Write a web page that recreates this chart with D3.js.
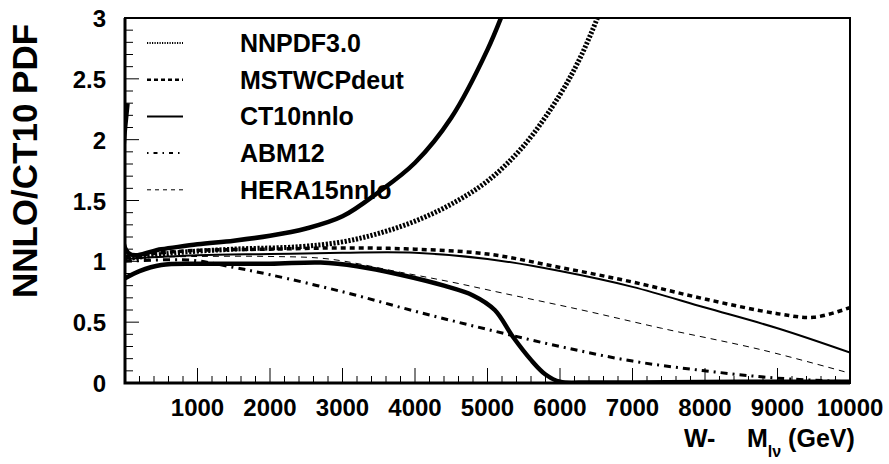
<!DOCTYPE html>
<html>
<head>
<meta charset="utf-8">
<script src="https://cdn.jsdelivr.net/npm/d3@7"></script>
<style>
  body { margin: 0; background: #fff; }
  text { font-family: "Liberation Sans", Arial, Helvetica, sans-serif; font-weight: bold; }
</style>
</head>
<body>
<svg width="889" height="464"></svg>
<script>
const svg = d3.select("svg");

// x values (GeV) and ratio values
const upperX = [35, 45, 500, 1000, 1500, 2000, 2500, 3000, 3500, 4000, 4500, 5000, 5250];
const upperY = [2.3, 1.07, 1.10, 1.14, 1.17, 1.21, 1.27, 1.37, 1.57, 1.81, 2.18, 2.74, 3.1];

const lowerX = [0, 200, 500, 1000, 2000, 2700, 3200, 3800, 4400, 4800, 5100, 5350, 5600, 5800, 6000, 6400, 7000, 8500, 10000];
const lowerY = [0.86, 0.92, 0.97, 0.98, 0.98, 0.99, 0.96, 0.89, 0.80, 0.72, 0.60, 0.38, 0.19, 0.07, 0.01, 0.005, 0.005, 0.01, 0.01];

const nnpdfX = [0, 700, 1500, 2400, 3000, 3500, 4000, 4500, 5000, 5500, 6000, 6300, 6550];
const nnpdfY = [1.02, 1.07, 1.10, 1.12, 1.16, 1.23, 1.33, 1.47, 1.66, 1.95, 2.37, 2.70, 3.05];

const mstwX = [0, 500, 1000, 2000, 3000, 4000, 5000, 6000, 7000, 8000, 9000, 9500, 10000];
const mstwY = [1.04, 1.07, 1.09, 1.10, 1.11, 1.10, 1.06, 0.95, 0.83, 0.69, 0.57, 0.54, 0.62];

const ct10X = [0, 1000, 2000, 3000, 4000, 5000, 6000, 7000, 8000, 9000, 10000];
const ct10Y = [1.02, 1.05, 1.06, 1.07, 1.07, 1.02, 0.92, 0.79, 0.62, 0.45, 0.25];

const abmX = [0, 900, 1500, 2000, 3000, 4000, 5000, 6000, 7000, 8000, 9000, 10000];
const abmY = [1.0, 1.01, 0.95, 0.89, 0.75, 0.59, 0.44, 0.30, 0.18, 0.10, 0.04, 0.01];

const heraX = [0, 1000, 2000, 2800, 3800, 4500, 5200, 6300, 7400, 8800, 10000];
const heraY = [1.03, 1.04, 1.04, 1.02, 0.91, 0.83, 0.74, 0.60, 0.45, 0.27, 0.08];

const legendNames = ["NNPDF3.0", "MSTWCPdeut", "CT10nnlo", "ABM12", "HERA15nnlo"];
const xTicks = [1000, 2000, 3000, 4000, 5000, 6000, 7000, 8000, 9000, 10000];
const yTicks = [0, 0.5, 1, 1.5, 2, 2.5, 3];

const frame = {left: 125, right: 850, top: 18, bottom: 383};

const x = d3.scaleLinear().domain([0, 10000]).range([frame.left, frame.right]);
const y = d3.scaleLinear().domain([0, 3]).range([frame.bottom, frame.top]);

const styles = {
    nnpdf: {w: 5, dash: "2.2,1.6"},
    mstw: {w: 3.5, dash: "5,4"},
    ct10: {w: 2, dash: null},
    abm: {w: 3, dash: "7,5,2,5"},
    hera: {w: 1, dash: "6,5"},
    band: {w: 4.5, dash: null}
};

svg.append("defs").append("clipPath").attr("id", "plot")
    .append("rect")
        .attr("x", frame.left).attr("y", frame.top)
        .attr("width", frame.right - frame.left).attr("height", frame.bottom - frame.top);

const line = d3.line()
    .x(d => x(d[0]))
    .y(d => y(d[1]))
    .curve(d3.curveCatmullRom.alpha(0.5));

function zip(xs, ys) {
    return xs.map((v, i) => [v, ys[i]]);
}

const curves = [
    {pts: zip(heraX, heraY), s: styles.hera},
    {pts: zip(abmX, abmY), s: styles.abm},
    {pts: zip(ct10X, ct10Y), s: styles.ct10},
    {pts: zip(mstwX, mstwY), s: styles.mstw},
    {pts: zip(nnpdfX, nnpdfY), s: styles.nnpdf},
    {pts: zip(upperX, upperY), s: styles.band},
    {pts: zip(lowerX, lowerY), s: styles.band}
];

svg.append("g")
    .attr("clip-path", "url(#plot)")
    .selectAll("path")
    .data(curves)
    .enter().append("path")
        .attr("d", d => line(d.pts))
        .attr("fill", "none")
        .attr("stroke", "black")
        .attr("stroke-width", d => d.s.w)
        .attr("stroke-dasharray", d => d.s.dash);

// ticks (inside the frame)
const xMinor = d3.range(0, 10001, 200);
svg.append("g").selectAll("line")
    .data(xMinor)
    .enter().append("line")
        .attr("x1", d => x(d)).attr("x2", d => x(d))
        .attr("y1", frame.bottom)
        .attr("y2", d => d % 1000 === 0 ? frame.bottom - 15 : frame.bottom - 7)
        .attr("stroke", "black").attr("stroke-width", 1);

const yMinor = d3.range(0, 31).map(i => i / 10);
svg.append("g").selectAll("line")
    .data(yMinor)
    .enter().append("line")
        .attr("y1", d => y(d)).attr("y2", d => y(d))
        .attr("x1", frame.left)
        .attr("x2", (d, i) => i % 5 === 0 ? frame.left + 14 : frame.left + 8)
        .attr("stroke", "black").attr("stroke-width", 1);

// frame: heavier on the axis sides
svg.append("rect")
    .attr("x", frame.left).attr("y", frame.top)
    .attr("width", frame.right - frame.left).attr("height", frame.bottom - frame.top)
    .attr("fill", "none").attr("stroke", "black").attr("stroke-width", 2);
svg.append("path")
    .attr("d", `M${frame.left},${frame.top}V${frame.bottom}H${frame.right}`)
    .attr("fill", "none").attr("stroke", "black").attr("stroke-width", 3);

// tick labels
svg.append("g").selectAll("text")
    .data(xTicks)
    .enter().append("text")
        .attr("x", d => x(d)).attr("y", 416)
        .attr("text-anchor", "middle")
        .attr("font-size", 24)
        .text(d => d);

svg.append("g").selectAll("text")
    .data(yTicks)
    .enter().append("text")
        .attr("x", 106).attr("y", d => y(d) + 9)
        .attr("text-anchor", "end")
        .attr("font-size", 24)
        .text(d => d);

// axis titles
const xt = svg.append("text").attr("x", 684).attr("y", 447).attr("font-size", 25);
xt.append("tspan").text("W-");
xt.append("tspan").attr("x", 747).text("M");
xt.append("tspan").attr("font-size", 16).attr("dy", 10).text("lν");
xt.append("tspan").attr("dy", -10).text(" (GeV)");

svg.append("text")
    .attr("transform", "translate(37,161) rotate(-90)")
    .attr("text-anchor", "middle")
    .attr("font-size", 35)
    .text("NNLO/CT10 PDF");

// legend
const legendStyles = [
    {w: 2, dash: "1.2,1.3"},
    {w: 2.5, dash: "4,3"},
    {w: 2, dash: null},
    {w: 2, dash: "1.5,5,4,5"},
    {w: 1, dash: "4,4"}
];

const legend = svg.append("g").selectAll("g")
    .data(legendNames)
    .enter().append("g")
        .attr("transform", (d, i) => "translate(0," + (43 + i * 36.7) + ")");

legend.append("line")
    .attr("x1", 147).attr("x2", 183)
    .attr("stroke", "black")
    .attr("stroke-width", (d, i) => legendStyles[i].w)
    .attr("stroke-dasharray", (d, i) => legendStyles[i].dash);

legend.append("text")
    .attr("x", 240).attr("y", 9)
    .attr("font-size", 25)
    .text(d => d);
</script>
</body>
</html>
